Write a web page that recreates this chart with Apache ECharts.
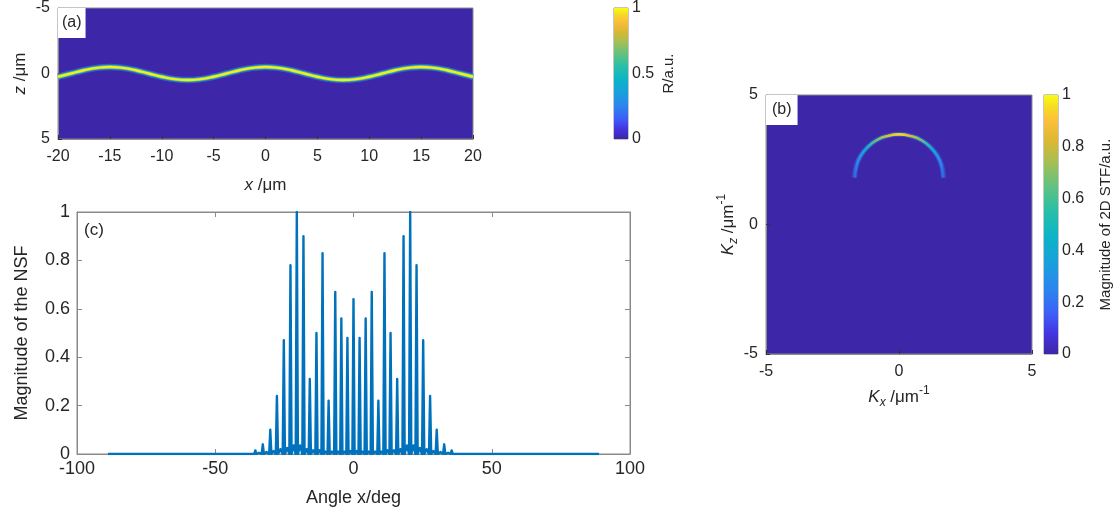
<!DOCTYPE html>
<html>
<head>
<meta charset="utf-8">
<script src="https://cdn.jsdelivr.net/npm/echarts@6/dist/echarts.min.js"></script>
<style>
  html, body { margin: 0; padding: 0; background: #fff; }
  #chart { width: 1119px; height: 512px; }
</style>
</head>
<body>
<div id="chart"></div>
<script>
// (a) centre line of the bright band, x /um -> z /um
var ridgeX = [-20, -18.75, -17.5, -16.25, -15, -13.75, -12.5, -11.25, -10, -8.75, -7.5, -6.25, -5, -3.75, -2.5, -1.25,
  0, 1.25, 2.5, 3.75, 5, 6.25, 7.5, 8.75, 10, 11.25, 12.5, 13.75, 15, 16.25, 17.5, 18.75, 20];
var ridgeZ = [0.25, 0, -0.25, -0.43, -0.5, -0.43, -0.25, 0, 0.25, 0.43, 0.5, 0.43, 0.25, 0, -0.25, -0.43,
  -0.5, -0.43, -0.25, 0, 0.25, 0.43, 0.5, 0.43, 0.25, 0, -0.25, -0.43, -0.5, -0.43, -0.25, 0, 0.25];

// (b) arc of the 2D STF
var arcKx = [-1.67, -1.61, -1.45, -1.18, -0.84, -0.43, 0, 0.43, 0.84, 1.18, 1.45, 1.61, 1.67];
var arcKz = [1.81, 2.24, 2.64, 2.99, 3.26, 3.42, 3.48, 3.42, 3.26, 2.99, 2.64, 2.24, 1.81];

// (c) NSF magnitude vs angle
var nsfAngle = [-88.8,
  -35.9, -35.5, -35.1, -34.2,  -33.2, -32.8, -32.4, -31.45,  -30.5, -30.1, -29.7, -28.9,
  -28.1, -27.7, -27.3, -26.45,  -25.6, -25.2, -24.8, -24.0,  -23.2, -22.8, -22.4, -21.65,
  -20.9, -20.5, -20.1, -19.3,  -18.5, -18.1, -17.7, -16.95,  -16.2, -15.8, -15.4, -14.6,
  -13.8, -13.4, -13.0, -12.3,  -11.6, -11.2, -10.8, -10.1,  -9.4, -9.0, -8.6, -7.8,
  -7.0, -6.6, -6.2, -5.5,  -4.8, -4.4, -4.0, -3.3,  -2.6, -2.2, -1.8, -1.1,
  -0.4, 0, 0.4,
  1.1, 1.8, 2.2, 2.6,  3.3, 4.0, 4.4, 4.8,  5.5, 6.2, 6.6, 7.0,  7.8, 8.6, 9.0, 9.4,
  10.1, 10.8, 11.2, 11.6,  12.3, 13.0, 13.4, 13.8,  14.6, 15.4, 15.8, 16.2,  16.95, 17.7, 18.1, 18.5,
  19.3, 20.1, 20.5, 20.9,  21.65, 22.4, 22.8, 23.2,  24.0, 24.8, 25.2, 25.6,  26.45, 27.3, 27.7, 28.1,
  28.9, 29.7, 30.1, 30.5,  31.45, 32.4, 32.8, 33.2,  34.2, 35.1, 35.5, 35.9,
  88.8];
var nsfMag = [0,
  0, 0.015, 0, 0.005,  0, 0.04, 0, 0.008,  0, 0.10, 0, 0.012,
  0, 0.24, 0, 0.02,  0, 0.47, 0, 0.025,  0, 0.78, 0, 0.035,
  0, 1.00, 0, 0.035,  0, 0.90, 0, 0.02,  0, 0.31, 0, 0.015,
  0, 0.50, 0, 0.015,  0, 0.83, 0, 0.01,  0, 0.22, 0, 0.01,
  0, 0.67, 0, 0.01,  0, 0.56, 0, 0.01,  0, 0.48, 0, 0.012,
  0, 0.64, 0,
  0.012, 0, 0.48, 0,  0.01, 0, 0.56, 0,  0.01, 0, 0.67, 0,  0.01, 0, 0.22, 0,
  0.01, 0, 0.83, 0,  0.015, 0, 0.50, 0,  0.015, 0, 0.31, 0,  0.02, 0, 0.90, 0,
  0.035, 0, 1.00, 0,  0.035, 0, 0.78, 0,  0.025, 0, 0.47, 0,  0.02, 0, 0.24, 0,
  0.012, 0, 0.10, 0,  0.008, 0, 0.04, 0,  0.005, 0, 0.015, 0,
  0];

var cbDummy = ['cb'];

var FONT = '"Liberation Sans", Arial, Helvetica, sans-serif';
var TXT = '#262626';
var BOX = '#8a8a8a';

// parula colormap stops
var parula = [
  [0.00, '#3e26a8'], [0.08, '#4435e0'], [0.15, '#3f5cf7'], [0.25, '#2c85ee'],
  [0.35, '#1a9fdd'], [0.45, '#0cb3c8'], [0.55, '#26bfa8'], [0.65, '#63c27e'],
  [0.75, '#acbf4e'], [0.82, '#dbb733'], [0.90, '#fcbf3a'], [0.95, '#f6da26'], [1.00, '#f9fb15']
];

function pairs(xs, ys) {
  return xs.map(function (x, i) { return [x, ys[i]]; });
}

var chart = echarts.init(document.getElementById('chart'));

var cbGradient = new echarts.graphic.LinearGradient(0, 1, 0, 0,
  parula.map(function (s) { return { offset: s[0], color: s[1] }; }));

var arcGradient = new echarts.graphic.LinearGradient(0, 0, 1, 0, [
  { offset: 0, color: '#3b3fd0' }, { offset: 0.05, color: '#2c85ee' },
  { offset: 0.16, color: '#14b0cc' }, { offset: 0.28, color: '#7cc26b' },
  { offset: 0.4, color: '#e5c02e' }, { offset: 0.5, color: '#f6d82a' },
  { offset: 0.6, color: '#e5c02e' }, { offset: 0.72, color: '#7cc26b' },
  { offset: 0.84, color: '#14b0cc' }, { offset: 0.95, color: '#2c85ee' },
  { offset: 1, color: '#3b3fd0' }
]);

function label(size) {
  return { color: TXT, fontSize: size, fontFamily: FONT };
}

var richName = function (size) {
  return {
    color: TXT, fontSize: size, fontFamily: FONT,
    rich: {
      i: { fontStyle: 'italic', fontSize: size, fontFamily: FONT, color: TXT },
      sub: { fontStyle: 'italic', fontSize: 12, fontFamily: FONT, color: TXT, padding: [12, 0, 0, 0] },
      sup: { fontSize: 12, fontFamily: FONT, color: TXT, padding: [0, 0, 12, 0] },
      n: { fontSize: size, fontFamily: FONT, color: TXT }
    }
  };
};

var line0 = { onZero: false, lineStyle: { color: BOX } };

chart.setOption({
  animation: false,
  backgroundColor: '#fff',
  title: [
    { text: '(a)', left: 58, top: 8, padding: [7, 4, 7, 4], backgroundColor: '#fff',
      textStyle: { fontSize: 16, fontWeight: 'normal', color: TXT, fontFamily: FONT } },
    { text: '(b)', left: 766, top: 95, padding: [7, 6, 7, 6], backgroundColor: '#fff',
      textStyle: { fontSize: 16, fontWeight: 'normal', color: TXT, fontFamily: FONT } },
    { text: '(c)', left: 84, top: 222, padding: 0,
      textStyle: { fontSize: 17, fontWeight: 'normal', color: TXT, fontFamily: FONT } }
  ],
  grid: [
    { left: 58, top: 8, width: 415, height: 131, show: true, backgroundColor: '#3e26a8', borderColor: BOX },
    { left: 614, top: 8, width: 14, height: 131, show: true, borderColor: BOX },
    { left: 77, top: 212, width: 553, height: 242, show: true, borderColor: BOX },
    { left: 766, top: 95, width: 266, height: 259, show: true, backgroundColor: '#3e26a8', borderColor: BOX },
    { left: 1044, top: 95, width: 14, height: 259, show: true, borderColor: BOX }
  ],
  xAxis: [
    { gridIndex: 0, type: 'value', min: -20, max: 20, interval: 5,
      name: '{i|x} /μm', nameLocation: 'middle', nameGap: 38, nameTextStyle: richName(17),
      axisLine: line0, axisTick: { inside: true, length: 4, lineStyle: { color: '#333' } },
      splitLine: { show: false }, axisLabel: Object.assign(label(16), { margin: 10 }) },
    { gridIndex: 1, type: 'category', data: cbDummy, show: false },
    { gridIndex: 2, type: 'value', min: -100, max: 100, interval: 50,
      name: 'Angle x/deg', nameLocation: 'middle', nameGap: 35, nameTextStyle: label(18),
      axisLine: line0, axisTick: { inside: true, length: 5, lineStyle: { color: BOX } },
      splitLine: { show: false }, axisLabel: Object.assign(label(18), { margin: 6 }) },
    { gridIndex: 2, type: 'value', min: -100, max: 100, interval: 50, position: 'top',
      axisLine: line0, axisTick: { inside: true, length: 5, lineStyle: { color: BOX } },
      splitLine: { show: false }, axisLabel: { show: false } },
    { gridIndex: 3, type: 'value', min: -5, max: 5, interval: 5,
      name: '{i|K}{sub|x}{n| /μm}{sup|-1}', nameLocation: 'middle', nameGap: 31, nameTextStyle: richName(17),
      axisLine: line0, axisTick: { inside: true, length: 4, lineStyle: { color: '#333' } },
      splitLine: { show: false }, axisLabel: Object.assign(label(16), { margin: 10 }) },
    { gridIndex: 4, type: 'category', data: cbDummy, show: false }
  ],
  yAxis: [
    { gridIndex: 0, type: 'value', min: -5, max: 5, interval: 5, inverse: true,
      name: '{i|z} /μm', nameLocation: 'middle', nameGap: 29, nameRotate: 90, nameTextStyle: richName(17),
      axisLine: line0, axisTick: { inside: true, length: 4, lineStyle: { color: '#333' } },
      splitLine: { show: false }, axisLabel: Object.assign(label(16), { margin: 8 }) },
    { gridIndex: 1, type: 'value', min: 0, max: 1, interval: 0.5, position: 'right',
      name: 'R/a.u.', nameLocation: 'middle', nameGap: 33, nameRotate: 90, nameTextStyle: label(15),
      axisLine: line0, axisTick: { length: 3, lineStyle: { color: BOX } },
      splitLine: { show: false }, axisLabel: Object.assign(label(16), { margin: 4 }) },
    { gridIndex: 2, type: 'value', min: 0, max: 1, interval: 0.2,
      name: 'Magnitude of the NSF', nameLocation: 'middle', nameGap: 46, nameRotate: 90, nameTextStyle: label(18),
      axisLine: line0, axisTick: { inside: true, length: 5, lineStyle: { color: BOX } },
      splitLine: { show: false }, axisLabel: Object.assign(label(18), { margin: 7 }) },
    { gridIndex: 2, type: 'value', min: 0, max: 1, interval: 0.2, position: 'right',
      axisLine: line0, axisTick: { inside: true, length: 5, lineStyle: { color: BOX } },
      splitLine: { show: false }, axisLabel: { show: false } },
    { gridIndex: 3, type: 'value', min: -5, max: 5, interval: 5,
      name: '{i|K}{sub|z}{n| /μm}{sup|-1}', nameLocation: 'middle', nameGap: 24, nameRotate: 90, nameTextStyle: richName(17),
      axisLine: line0, axisTick: { inside: true, length: 4, lineStyle: { color: '#333' } },
      splitLine: { show: false }, axisLabel: Object.assign(label(16), { margin: 8 }) },
    { gridIndex: 4, type: 'value', min: 0, max: 1, interval: 0.2, position: 'right',
      name: 'Magnitude of 2D STF/a.u.', nameLocation: 'middle', nameGap: 40, nameRotate: 90, nameTextStyle: label(15),
      axisLine: line0, axisTick: { length: 3, lineStyle: { color: BOX } },
      splitLine: { show: false }, axisLabel: Object.assign(label(16), { margin: 4 }) }
  ],
  series: [
    // (a) band: glow, edge, core
    { type: 'line', xAxisIndex: 0, yAxisIndex: 0, data: pairs(ridgeX, ridgeZ), smooth: 0.5, showSymbol: false,
      lineStyle: { width: 6.5, color: '#2c85ee', opacity: 0.6 } },
    { type: 'line', xAxisIndex: 0, yAxisIndex: 0, data: pairs(ridgeX, ridgeZ), smooth: 0.5, showSymbol: false,
      lineStyle: { width: 4, color: '#45c38c' } },
    { type: 'line', xAxisIndex: 0, yAxisIndex: 0, data: pairs(ridgeX, ridgeZ), smooth: 0.5, showSymbol: false,
      lineStyle: { width: 2.4, color: '#f2ee1e' } },
    // (a) colorbar
    { type: 'bar', xAxisIndex: 1, yAxisIndex: 1, data: [1], barWidth: '100%', itemStyle: { color: cbGradient } },
    // (c) NSF
    { type: 'line', xAxisIndex: 2, yAxisIndex: 2, data: pairs(nsfAngle, nsfMag), showSymbol: false,
      lineStyle: { width: 2.4, color: '#0072bd', join: 'round' } },
    // (b) arc: glow and core
    { type: 'line', xAxisIndex: 4, yAxisIndex: 4, data: pairs(arcKx, arcKz), smooth: true, showSymbol: false,
      lineStyle: { width: 5, color: '#2f6fe8', opacity: 0.55 } },
    { type: 'line', xAxisIndex: 4, yAxisIndex: 4, data: pairs(arcKx, arcKz), smooth: true, showSymbol: false,
      lineStyle: { width: 2.6, color: arcGradient } },
    // (b) colorbar
    { type: 'bar', xAxisIndex: 5, yAxisIndex: 5, data: [1], barWidth: '100%', itemStyle: { color: cbGradient } }
  ]
});
</script>
</body>
</html>
